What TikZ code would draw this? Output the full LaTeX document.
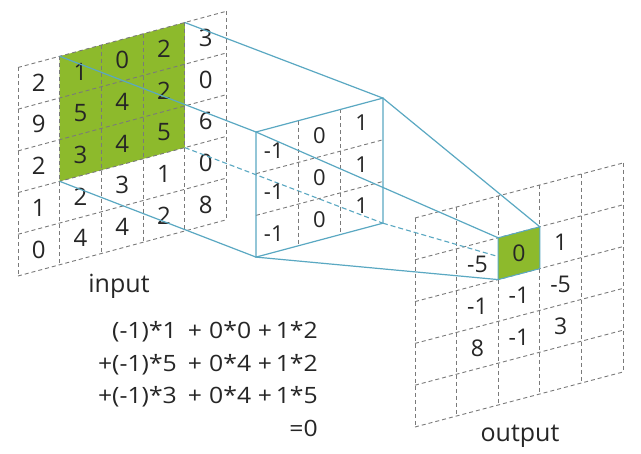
\documentclass[tikz,border=0pt]{standalone}
\usepackage{fontspec}
\setmainfont{Open Sans}
\newfontfamily\frmfont[FakeStretch=1.1]{Open Sans}
\definecolor{gfill}{HTML}{8DBA2C}
\definecolor{bline}{HTML}{5AA8C2}
\definecolor{dgray}{HTML}{7A7A7A}
\definecolor{txt}{HTML}{262626}
\begin{document}
\begin{tikzpicture}[x=1pt,y=-1pt,
  dgrid/.style={draw=dgray,line width=0.9pt,dash pattern=on 4pt off 3pt},
  blueline/.style={draw=bline,line width=1.2pt},
  hidline/.style={draw=bline,line width=1.1pt,dash pattern=on 5pt off 3pt},
  numA/.style={text=txt,inner sep=0pt,font=\fontsize{24}{28}\selectfont},
  numK/.style={text=txt,inner sep=0pt,font=\fontsize{22}{26}\selectfont},
  numO/.style={text=txt,inner sep=0pt,font=\fontsize{23}{27}\selectfont},
  lbl/.style={text=txt,inner sep=0pt,font=\fontsize{25}{30}\selectfont},
  frm/.style={text=txt,inner sep=0pt,font=\frmfont\fontsize{22.5}{27}\selectfont}]
\useasboundingbox[fill=white] (0,0) rectangle (641,454);

% ---------------- input grid ----------------
\begin{scope}[shift={(18,67.5)},x={(41.7pt,11.25pt)},y={(0pt,-41.7pt)}]
  \coordinate (gTL) at (1,0);
  \coordinate (gTR) at (4,0);
  \coordinate (gBL) at (1,3);
  \coordinate (gBR) at (4,3);
  \fill[gfill] (gTL) -- (gTR) -- (gBR) -- (gBL) -- cycle;
  \foreach \i in {0,...,5} {\draw[dgrid] (\i,0) -- (\i,5);}
  \foreach \j in {0,...,5} {\draw[dgrid] (0,\j) -- (5,\j);}
  \foreach \r/\vals in {0/{2,1,0,2,3},1/{9,5,4,2,0},2/{2,3,4,5,6},3/{1,2,3,1,0},4/{0,4,4,2,8}} {
    \foreach \v [count=\c from 0] in \vals {
      \node[numA] (in-\r-\c) at (\c+0.5,\r+0.5) {\v};
    }
  }
\end{scope}

% ---------------- output grid ----------------
\begin{scope}[shift={(415,218)},x={(41.6pt,11pt)},y={(0pt,-41.8pt)}]
  \coordinate (oTL) at (2,1);
  \coordinate (oTR) at (3,1);
  \coordinate (oBL) at (2,2);
  \coordinate (oBR) at (3,2);
  \foreach \i in {0,...,5} {\draw[dgrid] (\i,0) -- (\i,5);}
  \foreach \j in {0,...,5} {\draw[dgrid] (0,\j) -- (5,\j);}
  \node[numO] (out-1-1) at (1.5,1.5) {-5};
  \node[numO] (out-1-3) at (3.5,1.5) {1};
  \node[numO] (out-2-1) at (1.5,2.5) {-1};
  \node[numO] (out-2-2) at (2.5,2.5) {-1};
  \node[numO] (out-2-3) at (3.5,2.5) {-5};
  \node[numO] (out-3-1) at (1.5,3.5) {8};
  \node[numO] (out-3-2) at (2.5,3.5) {-1};
  \node[numO] (out-3-3) at (3.5,3.5) {3};
\end{scope}

% ---------------- kernel corners ----------------
\begin{scope}[shift={(256,132)},x={(42.3pt,11.3pt)},y={(0pt,-41.7pt)}]
  \coordinate (kTL) at (0,0);
  \coordinate (kTR) at (3,0);
  \coordinate (kBL) at (0,3);
  \coordinate (kBR) at (3,3);
\end{scope}

% hidden (dashed) projection lines
\draw[hidline] (gBR) -- (kBR);
\draw[hidline] (kBR) -- (oBR);

% output highlighted cell
\filldraw[fill=gfill,draw=bline,line width=1pt] (oTL) -- (oTR) -- (oBR) -- (oBL) -- cycle;
\begin{scope}[shift={(415,218)},x={(41.6pt,11pt)},y={(0pt,-41.8pt)}]
  \node[numO] (out-1-2) at (2.5,1.5) {0};
\end{scope}

% ---------------- kernel ----------------
\begin{scope}[shift={(256,132)},x={(42.3pt,11.3pt)},y={(0pt,-41.7pt)}]
  \foreach \i in {1,2} {\draw[dgrid] (\i,0) -- (\i,3);}
  \foreach \j in {1,2} {\draw[dgrid] (0,\j) -- (3,\j);}
  \draw[blueline] (kTL) -- (kTR) -- (kBR) -- (kBL) -- cycle;
  \foreach \r in {0,1,2} {
    \node[numK] (k-\r-0) at (0.42,\r+0.55) {-1};
    \node[numK] (k-\r-1) at (1.5,\r+0.5) {0};
    \node[numK] (k-\r-2) at (2.5,\r+0.45) {1};
  }
\end{scope}

% solid projection lines
\draw[blueline] (gTL) -- (kTL);
\draw[blueline] (gTR) -- (kTR);
\draw[blueline] (gBL) -- (kBL);
\draw[blueline] (kTL) -- (oTL);
\draw[blueline] (kTR) -- (oTR);
\draw[blueline] (kBL) -- (oBL);

% labels
\node[lbl,anchor=base] (inlbl) at (119,293) {input};
\node[lbl,anchor=base] (outlbl) at (520,441.5) {output};

% formula
\node[frm,anchor=base east] (f1a) at (177,339) {(-1)*1};
\node[frm,anchor=base] (f1p) at (195,339) {+};
\node[frm,anchor=base west] (f1b) at (209,339) {0*0};
\node[frm,anchor=base] (f1q) at (265,339) {+};
\node[frm,anchor=base east] (f1c) at (318,339) {1*2};

\node[frm,anchor=base east] (f2a) at (177,372) {+(-1)*5};
\node[frm,anchor=base] (f2p) at (195,372) {+};
\node[frm,anchor=base west] (f2b) at (209,372) {0*4};
\node[frm,anchor=base] (f2q) at (265,372) {+};
\node[frm,anchor=base east] (f2c) at (318,372) {1*2};

\node[frm,anchor=base east] (f3a) at (177,404) {+(-1)*3};
\node[frm,anchor=base] (f3p) at (195,404) {+};
\node[frm,anchor=base west] (f3b) at (209,404) {0*4};
\node[frm,anchor=base] (f3q) at (265,404) {+};
\node[frm,anchor=base east] (f3c) at (318,404) {1*5};

\node[frm,anchor=base east] (f4) at (318,437) {=0};
\end{tikzpicture}
\end{document}
